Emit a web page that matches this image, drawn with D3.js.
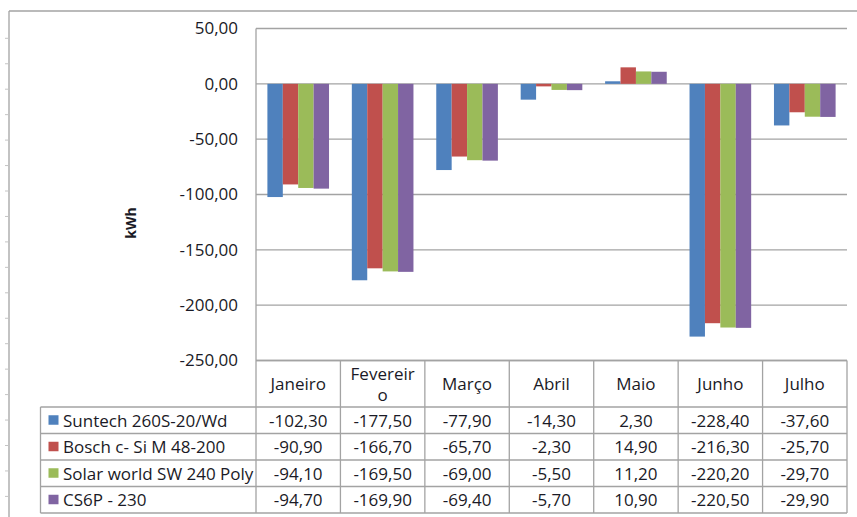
<!DOCTYPE html>
<html>
<head>
<meta charset="utf-8">
<script src="https://cdn.jsdelivr.net/npm/d3@7"></script>
<style>
  html, body { margin: 0; padding: 0; background: #fff; }
  svg { display: block; }
  text { font-family: "Open Sans", sans-serif; fill: #1a1a26; }
</style>
</head>
<body>
<svg id="chart" width="857" height="517"></svg>
<script>
// Monthly energy difference (kWh) per module model
const months = ["Janeiro", "Fevereiro", "Março", "Abril", "Maio", "Junho", "Julho"];
const seriesNames = ["Suntech 260S-20/Wd", "Bosch c- Si M 48-200", "Solar world SW 240 Poly", "CS6P - 230"];
const suntech  = [-102.3, -177.5, -77.9, -14.3, 2.3, -228.4, -37.6];
const bosch    = [-90.9, -166.7, -65.7, -2.3, 14.9, -216.3, -25.7];
const solarW   = [-94.1, -169.5, -69.0, -5.5, 11.2, -220.2, -29.7];
const cs6p     = [-94.7, -169.9, -69.4, -5.7, 10.9, -220.5, -29.9];
const yTicks   = [50, 0, -50, -100, -150, -200, -250];
const colors   = ["#4f81bd", "#c0504d", "#9bbb59", "#8064a2"];

const seriesValues = [suntech, bosch, solarW, cs6p];

const svg = d3.select("#chart");
const W = 857, H = 517;
const fontSize = 17;

const locale = d3.formatLocale({ decimal: ",", thousands: ".", grouping: [3], currency: ["", ""], minus: "-" });
const fmt = locale.format(".2f");

const plotLeft = 256, plotRight = 847, plotTop = 28.5, plotBottom = 360.5;
const tableTop = 360.5, headerBottom = 407, rowH = 26.5, legendLeft = 40.5;

const y = d3.scaleLinear().domain([-250, 50]).range([plotBottom, plotTop]);
const x0 = d3.scaleBand().domain(months).range([plotLeft, plotRight]);
const bw = x0.bandwidth();
const x1 = d3.scaleBand().domain(d3.range(seriesNames.length)).range([bw * 0.135, bw * 0.865]);

const gridColor = "#a3a3a3";

// outer chart frame (left and top edges) with small marks along the left
svg.append("line").attr("x1", 9).attr("x2", 9).attr("y1", 11).attr("y2", H)
  .attr("stroke", gridColor).attr("stroke-width", 1.3);
svg.append("line").attr("x1", 9).attr("x2", W).attr("y1", 11).attr("y2", 11)
  .attr("stroke", gridColor).attr("stroke-width", 1.3);
svg.append("g").selectAll("line").data(d3.range(38.3, H, 25.45)).join("line")
  .attr("x1", 5).attr("x2", 9).attr("y1", d => d).attr("y2", d => d)
  .attr("stroke", "#c4c4c4").attr("stroke-width", 1);

// horizontal gridlines
svg.append("g").selectAll("line").data(yTicks).join("line")
  .attr("x1", plotLeft).attr("x2", plotRight)
  .attr("y1", d => y(d)).attr("y2", d => y(d))
  .attr("stroke", gridColor).attr("stroke-width", 1.3);

// value axis
const yAxis = d3.axisLeft(y).tickValues(yTicks).tickFormat(fmt).tickSize(0).tickPadding(18);
const yg = svg.append("g").attr("transform", `translate(${plotLeft},0)`).call(yAxis);
yg.select(".domain").remove();
yg.selectAll("text").style("font-size", fontSize + "px").attr("fill", "#1a1a26");

// data table geometry
const tableBottom = headerBottom + rowH * seriesNames.length;

svg.append("line").attr("x1", plotLeft).attr("x2", plotLeft).attr("y1", plotTop).attr("y2", tableBottom)
  .attr("stroke", gridColor).attr("stroke-width", 1.3);

// axis title
svg.append("text").attr("transform", "translate(130,223) rotate(-90)")
  .attr("text-anchor", "middle").attr("dominant-baseline", "central")
  .style("font-size", "14px").style("font-weight", "bold").text("kWh");

// bars
const groups = svg.append("g").selectAll("g").data(months).join("g")
  .attr("transform", d => `translate(${x0(d)},0)`);
groups.selectAll("rect")
  .data((m, i) => seriesValues.map((vals, s) => ({ s, v: vals[i] })))
  .join("rect")
  .attr("x", d => x1(d.s))
  .attr("width", x1.bandwidth())
  .attr("y", d => y(Math.max(0, d.v)))
  .attr("height", d => Math.abs(y(d.v) - y(0)))
  .attr("fill", d => colors[d.s]);

// data table
const tg = svg.append("g");
// header top and column separators
tg.append("line").attr("x1", plotLeft).attr("x2", plotRight).attr("y1", tableTop).attr("y2", tableTop)
  .attr("stroke", gridColor).attr("stroke-width", 1.3);
tg.selectAll("line.col").data(months).join("line").attr("class", "col")
  .attr("x1", d => x0(d) + bw).attr("x2", d => x0(d) + bw)
  .attr("y1", tableTop).attr("y2", tableBottom)
  .attr("stroke", gridColor).attr("stroke-width", 1.3);
// row separators
tg.selectAll("line.row").data(d3.range(seriesNames.length + 1)).join("line").attr("class", "row")
  .attr("x1", legendLeft).attr("x2", plotRight)
  .attr("y1", i => headerBottom + i * rowH).attr("y2", i => headerBottom + i * rowH)
  .attr("stroke", gridColor).attr("stroke-width", 1.3);
tg.append("line").attr("x1", legendLeft).attr("x2", legendLeft).attr("y1", headerBottom).attr("y2", tableBottom)
  .attr("stroke", gridColor).attr("stroke-width", 1.3);

// header labels, wrapped to the column width
function wrapChars(word, maxW, size) {
  const ctx = document.createElement("canvas").getContext("2d");
  ctx.font = `${size}px "Open Sans"`;
  const lines = [];
  let cur = "";
  for (const ch of word) {
    if (cur && ctx.measureText(cur + ch).width > maxW) { lines.push(cur); cur = ch; }
    else cur += ch;
  }
  if (cur) lines.push(cur);
  return lines;
}
const headerMid = (tableTop + headerBottom) / 2;
months.forEach(m => {
  const lines = wrapChars(m, 69, fontSize);
  const lh = 21;
  const t = tg.append("text").attr("text-anchor", "middle").style("font-size", fontSize + "px");
  lines.forEach((ln, i) => {
    t.append("tspan").attr("x", x0(m) + bw / 2)
      .attr("y", headerMid + (i - (lines.length - 1) / 2) * lh)
      .attr("dominant-baseline", "central").text(ln);
  });
});

// legend keys and values
seriesNames.forEach((name, s) => {
  const cy = headerBottom + s * rowH + rowH / 2;
  tg.append("rect").attr("x", 48.5).attr("y", cy - 5).attr("width", 10).attr("height", 9.5).attr("fill", colors[s]);
  tg.append("text").attr("x", 63).attr("y", cy).attr("dominant-baseline", "central")
    .style("font-size", fontSize + "px").text(name);
  months.forEach((m, i) => {
    tg.append("text").attr("x", x0(m) + bw / 2).attr("y", cy).attr("text-anchor", "middle")
      .attr("dominant-baseline", "central").style("font-size", fontSize + "px").text(fmt(seriesValues[s][i]));
  });
});
</script>
</body>
</html>
